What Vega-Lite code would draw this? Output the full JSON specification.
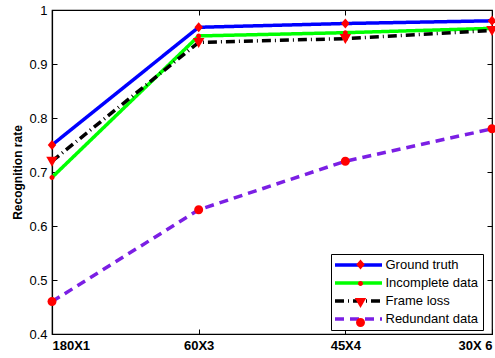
{
  "$schema": "https://vega.github.io/schema/vega-lite/v6.json",
  "width": 440,
  "height": 324,
  "autosize": {"type": "none"},
  "padding": {"left": 52, "top": 10, "right": 3, "bottom": 24},
  "background": "white",
  "config": {
    "font": "Liberation Sans",
    "view": {"stroke": "black", "strokeWidth": 1.2},
    "axis": {"grid": false, "domainColor": "black", "tickColor": "black", "labelColor": "black", "titleColor": "black", "domainWidth": 1.2, "tickWidth": 1}
  },
  "data": {
    "values": [
      {"setting": "180X1", "series": "Ground truth", "rate": 0.75},
      {"setting": "60X3", "series": "Ground truth", "rate": 0.968},
      {"setting": "45X4", "series": "Ground truth", "rate": 0.975},
      {"setting": "30X 6", "series": "Ground truth", "rate": 0.98},
      {"setting": "180X1", "series": "Incomplete data", "rate": 0.69},
      {"setting": "60X3", "series": "Incomplete data", "rate": 0.952},
      {"setting": "45X4", "series": "Incomplete data", "rate": 0.958},
      {"setting": "30X 6", "series": "Incomplete data", "rate": 0.966},
      {"setting": "180X1", "series": "Frame loss", "rate": 0.72},
      {"setting": "60X3", "series": "Frame loss", "rate": 0.94},
      {"setting": "45X4", "series": "Frame loss", "rate": 0.947},
      {"setting": "30X 6", "series": "Frame loss", "rate": 0.962},
      {"setting": "180X1", "series": "Redundant data", "rate": 0.46},
      {"setting": "60X3", "series": "Redundant data", "rate": 0.63},
      {"setting": "45X4", "series": "Redundant data", "rate": 0.72},
      {"setting": "30X 6", "series": "Redundant data", "rate": 0.78}
    ]
  },
  "resolve": {"axis": {"x": "independent", "y": "independent"}},
  "layer": [
    {
      "mark": {"type": "line", "strokeWidth": 3.5},
      "encoding": {
        "x": {
          "field": "setting", "type": "ordinal",
          "scale": {"type": "point", "padding": 0, "domain": ["180X1", "60X3", "45X4", "30X 6"]},
          "axis": {"orient": "bottom", "title": null, "labelFontWeight": "bold", "labelFontSize": 13, "labelFlush": true, "labelAngle": 0, "tickSize": -5, "labelPadding": 10}
        },
        "y": {
          "field": "rate", "type": "quantitative",
          "scale": {"domain": [0.4, 1], "nice": false, "zero": false},
          "axis": {"orient": "left", "title": "Recognition rate", "titleFontWeight": "bold", "titleFontSize": 12, "titlePadding": 4, "values": [0.4, 0.5, 0.6, 0.7, 0.8, 0.9, 1], "format": "~g", "labelFontSize": 13, "tickSize": -5, "labelPadding": 10}
        },
        "color": {
          "field": "series", "type": "nominal",
          "scale": {"domain": ["Ground truth", "Incomplete data", "Frame loss", "Redundant data"], "range": ["#0000ff", "#00ff00", "#000000", "#7b1fe4"]},
          "legend": {"title": null, "orient": "none", "legendX": 279, "legendY": 244, "symbolType": "M-4.7,0H4.7", "symbolSize": 100, "symbolStrokeWidth": 3.5, "symbolOffset": 16.5, "labelFontSize": 13, "labelColor": "black", "labelOffset": 20, "rowPadding": 4, "padding": 4, "strokeColor": "black", "fillColor": "white", "labelLimit": 200}
        },
        "strokeDash": {
          "field": "series", "type": "nominal",
          "scale": {"domain": ["Ground truth", "Incomplete data", "Frame loss", "Redundant data"], "range": [[1, 0], [1, 0], [9, 4, 1, 4], [9, 6]]},
          "legend": {"title": null, "orient": "none", "legendX": 279, "legendY": 244, "symbolType": "M-4.7,0H4.7", "symbolSize": 100, "symbolStrokeWidth": 3.5, "symbolOffset": 16.5, "labelFontSize": 13, "labelColor": "black", "labelOffset": 20, "rowPadding": 4, "padding": 4, "strokeColor": "black", "fillColor": "white", "labelLimit": 200}
        }
      }
    },
    {
      "mark": {"type": "point", "filled": true, "color": "#ff0000", "opacity": 1, "size": 100},
      "encoding": {
        "x": {
          "field": "setting", "type": "ordinal",
          "scale": {"type": "point", "padding": 0, "domain": ["180X1", "60X3", "45X4", "30X 6"]},
          "axis": {"orient": "top", "title": null, "labels": false, "tickSize": -5, "domain": false}
        },
        "y": {
          "field": "rate", "type": "quantitative",
          "scale": {"domain": [0.4, 1], "nice": false, "zero": false},
          "axis": {"orient": "right", "title": null, "labels": false, "values": [0.4, 0.5, 0.6, 0.7, 0.8, 0.9, 1], "tickSize": -5, "domain": false}
        },
        "shape": {
          "field": "series", "type": "nominal",
          "sort": ["Ground truth", "Incomplete data", "Frame loss", "Redundant data"],
          "scale": {"range": ["M0,-1L0.85,0L0,1L-0.85,0Z", "M-0.5,0A0.5,0.5,0,1,0,0.5,0A0.5,0.5,0,1,0,-0.5,0Z", "M-1.15,-0.9L1.15,-0.9L0,1.1Z", "M-0.9,0A0.9,0.9,0,1,0,0.9,0A0.9,0.9,0,1,0,-0.9,0Z"]},
          "legend": {"title": null, "orient": "none", "legendX": 298, "legendY": 244, "symbolSize": 100, "labelExpr": "' '", "labelFontSize": 13, "labelOffset": 4, "rowPadding": 4, "padding": 4, "labelLimit": 200}
        }
      }
    }
  ]
}
